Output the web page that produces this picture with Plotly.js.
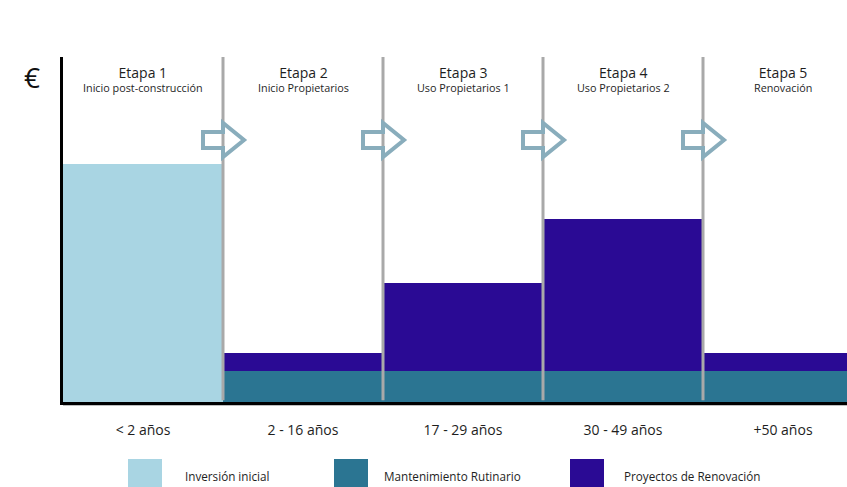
<!DOCTYPE html>
<html>
<head>
<meta charset="utf-8">
<script src="https://cdn.plot.ly/plotly-3.0.1.min.js"></script>
<style>
  html, body { margin: 0; padding: 0; background: #fff; }
  #chart { width: 847px; height: 487px; }
</style>
</head>
<body>
<div id="chart"></div>
<script>
// Stages of a building's life cycle and the cost profile in each one
const stagePositions = [1, 2, 3, 4, 5];
const stageTitles = ['Etapa 1', 'Etapa 2', 'Etapa 3', 'Etapa 4', 'Etapa 5'];
const stageSubtitles = ['Inicio post-construcción', 'Inicio Propietarios', 'Uso Propietarios 1', 'Uso Propietarios 2', 'Renovación'];
const periodLabels = ['< 2 años', '2 - 16 años', '17 - 29 años', '30 - 49 años', '+50 años'];

const seriesNames = ['Inversión inicial', 'Mantenimiento Rutinario', 'Proyectos de Renovación'];
const initialInvestment = [69, null, null, null, null];
const routineMaintenance = [null, 9, 9, 9, 9];
const renovationProjects = [null, 5.2, 25.5, 44, 5.2];
const seriesColors = ['#a9d5e3', '#2b7592', '#2a0a94'];

const FONT = '"Open Sans", sans-serif';
const TEXT = '#1e1e1e';

// Plot frame in pixels
const W = 847, H = 487;
const M = { l: 63, r: 0, t: 57, b: 85 };
const plotW = W - M.l - M.r, plotH = H - M.t - M.b;
const pxToPaperX = px => (px - M.l) / plotW;
const pxToPaperY = py => (H - M.b - py) / plotH;

const xRange = [0.5, 0.5 + plotW / 160];
const yRange = [0, 100];

const traces = [initialInvestment, routineMaintenance, renovationProjects].map((vals, i) => ({
  type: 'bar',
  x: stagePositions,
  y: vals,
  name: seriesNames[i],
  width: 1,
  marker: { color: seriesColors[i], line: { width: 0 } },
  hoverinfo: 'skip',
  showlegend: false
}));

const shapes = [];
const annotations = [];

// Soft shadow under the horizontal axis
shapes.push({
  type: 'line', xref: 'paper', yref: 'paper',
  x0: 0, x1: 1, y0: pxToPaperY(405), y1: pxToPaperY(405),
  line: { color: 'rgba(0,0,0,0.25)', width: 2 }
});

// Grey separators between stages, with an outlined arrow on each
const boundaries = stagePositions.slice(0, -1).map(p => p + 0.5);
boundaries.forEach(b => {
  shapes.push({
    type: 'line', xref: 'x', yref: 'paper',
    x0: b, x1: b, y0: 0.005, y1: 1,
    line: { color: '#a9a9a9', width: 3 },
    layer: 'above'
  });
  shapes.push({
    type: 'path', xref: 'x', yref: 'paper',
    xsizemode: 'pixel', ysizemode: 'pixel',
    xanchor: b, yanchor: pxToPaperY(140),
    path: 'M -20 8 L 0 8 L 0 17 L 21 0 L 0 -17 L 0 -8 L -20 -8 Z',
    line: { color: '#89adbc', width: 4 },
    fillcolor: 'rgba(0,0,0,0)',
    layer: 'above'
  });
});

// Stage headers: larger title line over a smaller description line
stagePositions.forEach((p, i) => {
  annotations.push({
    x: p, y: pxToPaperY(79), xref: 'x', yref: 'paper',
    text: '<span style="font-size:14px">' + stageTitles[i] + '</span><br>' + stageSubtitles[i],
    showarrow: false, yanchor: 'middle', borderpad: 0,
    font: { family: FONT, size: 10.8, color: TEXT }
  });
});

// Euro sign as the vertical axis label
annotations.push({
  x: pxToPaperX(22), y: pxToPaperY(77), xref: 'paper', yref: 'paper',
  text: '€', showarrow: false, yanchor: 'middle',
  font: { family: FONT, size: 28, color: '#111' }
});

// Legend drawn as large swatches along the bottom
const legendSwatchX = [128, 334, 570];
const legendTextX = [183, 382, 622];
seriesNames.forEach((name, i) => {
  shapes.push({
    type: 'rect', xref: 'paper', yref: 'paper',
    x0: pxToPaperX(legendSwatchX[i]), x1: pxToPaperX(legendSwatchX[i] + 34),
    y0: pxToPaperY(459), y1: pxToPaperY(495),
    fillcolor: seriesColors[i], line: { width: 0 }
  });
  annotations.push({
    x: pxToPaperX(legendTextX[i]), y: pxToPaperY(476), xref: 'paper', yref: 'paper',
    text: name, showarrow: false, xanchor: 'left', yanchor: 'middle',
    font: { family: FONT, size: 11.7, color: TEXT }
  });
});

const layout = {
  width: W, height: H,
  margin: M,
  paper_bgcolor: '#fff', plot_bgcolor: '#fff',
  barmode: 'stack', bargap: 0,
  showlegend: false,
  xaxis: {
    range: xRange, fixedrange: true,
    tickvals: stagePositions, ticktext: periodLabels,
    ticks: 'outside', ticklen: 13, tickcolor: 'rgba(0,0,0,0)',
    tickfont: { family: FONT, size: 14, color: TEXT },
    showgrid: false, zeroline: false,
    showline: true, linecolor: '#000', linewidth: 3
  },
  yaxis: {
    range: yRange, fixedrange: true,
    showticklabels: false, ticks: '',
    showgrid: false, zeroline: false,
    showline: true, linecolor: '#000', linewidth: 3
  },
  shapes: shapes,
  annotations: annotations
};

Plotly.newPlot('chart', traces, layout, { displayModeBar: false, staticPlot: true });
</script>
</body>
</html>
